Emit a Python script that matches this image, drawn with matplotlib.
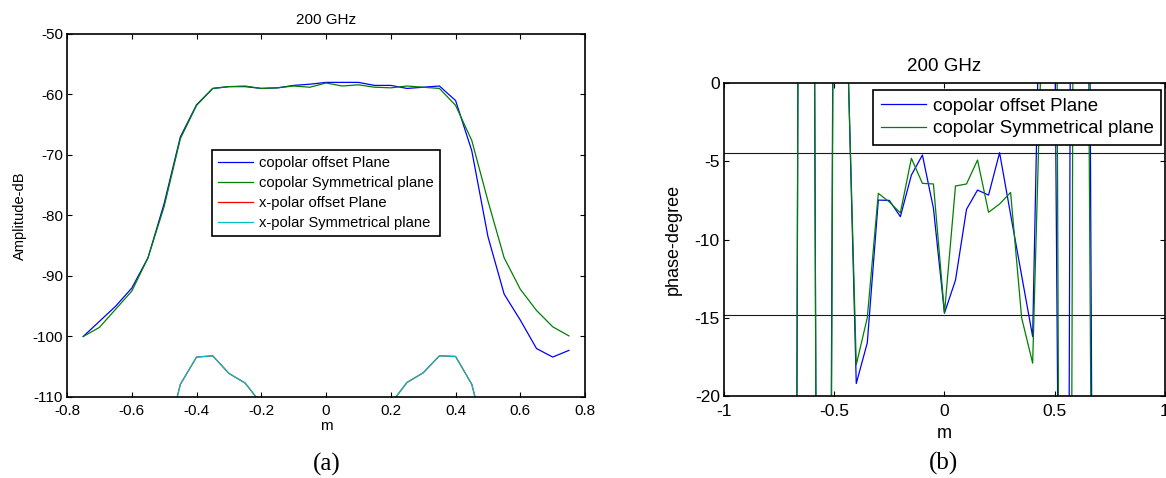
#!/usr/bin/env python3
# -*- coding: utf-8 -*-

import numpy as np
import matplotlib
matplotlib.use('Agg')
import matplotlib.pyplot as plt

plt.rcParams['font.family'] = ['Liberation Sans', 'DejaVu Sans']
plt.rcParams['axes.unicode_minus'] = False

# sample positions (m)
x_m = [-0.75, -0.70, -0.65, -0.60, -0.55, -0.50, -0.45, -0.40, -0.35, -0.30, -0.25,
       -0.20, -0.15, -0.10, -0.05, 0.00, 0.05, 0.10, 0.15, 0.20, 0.25,
       0.30, 0.35, 0.40, 0.45, 0.50, 0.55, 0.60, 0.65, 0.70, 0.75]

# (a) amplitude, dB
amp_co_offset = [-100, -97.5, -95, -92, -87, -78, -67, -61.7, -59, -58.7, -58.7,
                 -59, -58.9, -58.5, -58.3, -58, -58, -58, -58.5, -58.5, -59,
                 -58.8, -58.6, -61, -69.3, -83.5, -93, -97.3, -102, -103.4, -102.3]
amp_co_sym = [-100, -98.5, -95.5, -92.5, -87, -78.5, -67.3, -61.8, -59, -58.7, -58.6,
              -59, -58.9, -58.6, -58.8, -58.1, -58.6, -58.4, -58.8, -58.9, -58.6,
              -58.8, -59, -61.8, -67.6, -77.6, -87, -92.2, -95.7, -98.4, -99.9]
amp_x_offset = [-130, -127, -124, -121, -119, -118.5, -107.9, -103.4, -103.2, -106.1, -107.7,
                -111.1, -116, -121, -126, -128, -126, -121, -116, -111.1, -107.6,
                -106, -103.2, -103.3, -107.9, -118.5, -119, -121, -124, -127, -130]
amp_x_sym = [-130, -127, -124, -121, -119, -118.5, -107.9, -103.4, -103.2, -106.1, -107.7,
             -111.1, -116, -121, -126, -128, -126, -121, -116, -111.1, -107.6,
             -106, -103.2, -103.3, -107.9, -118.5, -119, -121, -124, -127, -130]

# (b) phase, degree
ph_co_offset = [-150, -160, 67, 40, -138, 22, 8.2, -19.2, -16.6, -7.48, -7.5,
                -8.54, -5.88, -4.6, -8.0, -14.7, -12.6, -8.07, -6.84, -7.16, -4.45,
                -8.4, -12.3, -16.2, 19, 5, -88.75, 130, 30, -113, -150]
ph_co_sym = [-150, -158, 66, 45, -151, 21, 7.7, -18.0, -15.0, -7.05, -7.6,
             -8.3, -4.81, -6.41, -6.45, -14.7, -6.58, -6.45, -4.92, -8.26, -7.73,
             -6.99, -15.0, -17.9, 7.7, 40, -138.6, 75.7, 10, -101, -150]
ph_ref_levels = [-4.5, -14.8]

a_xticks = [-0.8, -0.6, -0.4, -0.2, 0, 0.2, 0.4, 0.6, 0.8]
a_xticklabels = ['-0.8', '-0.6', '-0.4', '-0.2', '0', '0.2', '0.4', '0.6', '0.8']
a_yticks = [-110, -100, -90, -80, -70, -60, -50]
b_xticks = [-1, -0.5, 0, 0.5, 1]
b_xticklabels = ['-1', '-0.5', '0', '0.5', '1']
b_yticks = [-20, -15, -10, -5, 0]

BLUE = (0, 0, 1)
GREEN = (0, 0.5, 0)
RED = (1, 0, 0)
CYAN = (0, 0.75, 0.75)


def style_axes(ax, size, xpad):
    ax.tick_params(direction='in', top=True, right=True, length=3.5,
                   width=0.8, labelsize=size, pad=3)
    ax.tick_params(axis='x', pad=xpad)
    for sp in ax.spines.values():
        sp.set_linewidth(1.2)


def main():
    fig = plt.figure(figsize=(11.66, 4.78), dpi=100)

    # (a) amplitude
    ax1 = fig.add_axes([0.0575, 0.1695, 0.4443, 0.7594])
    ax1.plot(x_m, amp_co_offset, color=BLUE, lw=0.9, label='copolar offset Plane')
    ax1.plot(x_m, amp_co_sym, color=GREEN, lw=0.9, label='copolar Symmetrical plane')
    ax1.plot(x_m, amp_x_offset, color=RED, lw=0.9, label='x-polar offset Plane')
    ax1.plot(x_m, amp_x_sym, color=CYAN, lw=0.9, label='x-polar Symmetrical plane')
    ax1.set_xlim(-0.8, 0.8)
    ax1.set_ylim(-110, -50)
    ax1.set_xticks(a_xticks)
    ax1.set_xticklabels(a_xticklabels)
    ax1.set_yticks(a_yticks)
    style_axes(ax1, 11, 5)
    ax1.set_title('200 GHz', fontsize=11, pad=7)
    ax1.set_xlabel('m', fontsize=11, labelpad=1)
    ax1.set_ylabel('Amplitude-dB', fontsize=10.5, labelpad=4)
    leg1 = ax1.legend(loc='upper left', bbox_to_anchor=(0.28, 0.6804),
                      fontsize=10.6, fancybox=False, framealpha=1,
                      borderaxespad=0, handlelength=2.4, handletextpad=0.4,
                      labelspacing=0.42, borderpad=0.4)
    leg1.get_frame().set_edgecolor('black')
    leg1.get_frame().set_linewidth(1.2)

    # (b) phase
    ax2 = fig.add_axes([0.6209, 0.1715, 0.3782, 0.6548])
    for lvl in ph_ref_levels:
        ax2.axhline(lvl, color='0.1', lw=0.8)
    ax2.plot(x_m, ph_co_offset, color=BLUE, lw=0.9, label='copolar offset Plane')
    ax2.plot(x_m, ph_co_sym, color=GREEN, lw=0.9, label='copolar Symmetrical plane')
    ax2.set_xlim(-1, 1)
    ax2.set_ylim(-20, 0)
    ax2.set_xticks(b_xticks)
    ax2.set_xticklabels(b_xticklabels)
    ax2.set_yticks(b_yticks)
    style_axes(ax2, 12.5, 6)
    ax2.set_title('200 GHz', fontsize=13.5, pad=9)
    ax2.set_xlabel('m', fontsize=13, labelpad=4)
    ax2.set_ylabel('phase-degree', fontsize=13, labelpad=9)
    leg2 = ax2.legend(loc='upper left', bbox_to_anchor=(0.338, 0.978),
                      fontsize=13.5, fancybox=False, framealpha=1,
                      borderaxespad=0, handlelength=2.4, handletextpad=0.4,
                      labelspacing=0.3, borderpad=0.4)
    leg2.get_frame().set_edgecolor('black')
    leg2.get_frame().set_linewidth(1.2)

    fig.text(327 / 1166, 1 - 464 / 478, '(a)', family='Liberation Serif',
             fontsize=18, ha='center', va='center')
    fig.text(943 / 1166, 1 - 463 / 478, '(b)', family='Liberation Serif',
             fontsize=18, ha='center', va='center')

    fig.savefig('out.png', dpi=100)


if __name__ == '__main__':
    main()
